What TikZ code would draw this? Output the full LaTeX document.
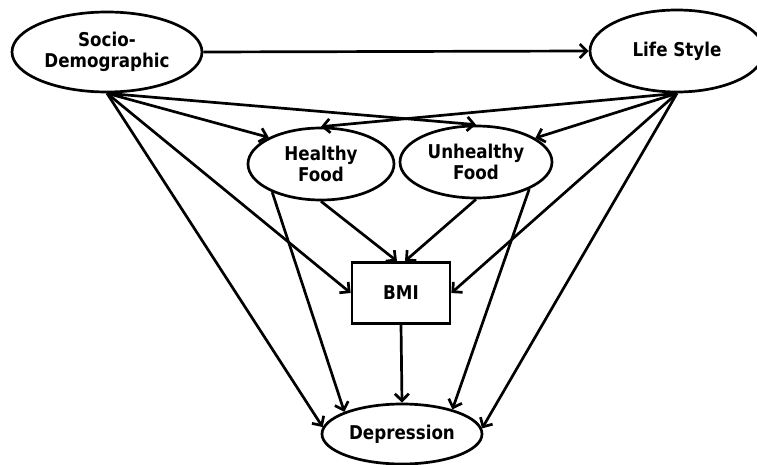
\documentclass[tikz,border=0pt]{standalone}
\usepackage{fontspec}
\setmainfont{DejaVu Sans}[FakeStretch=0.88]
\usetikzlibrary{positioning,arrows.meta,shapes.geometric}

\begin{document}
\begin{tikzpicture}[
        x=1pt, y=-1pt,
        line width=2.7pt,
        >={Straight Barb[length=7pt,width=14pt]},
        font=\bfseries\fontsize{19}{21}\selectfont,
        factor/.style={ellipse, draw, inner sep=0pt, align=center},
        measure/.style={rectangle, draw, inner sep=0pt, align=center}
    ]
        \useasboundingbox (0,0) rectangle (757,465);

        % Nodes
        \node[factor, minimum width=190pt, minimum height=80pt] (socio) at (107,52) {Socio-\\Demographic};
        \node[factor, minimum width=174pt, minimum height=82pt] (life) at (677,51) {Life Style};
        \node[factor, minimum width=146pt, minimum height=72pt] (healthy) at (321,164) {Healthy\\Food};
        \node[factor, minimum width=152pt, minimum height=72pt] (unhealthy) at (476,162) {Unhealthy\\Food};
        \node[measure, minimum width=98pt, minimum height=61pt] (bmi) at (401,293) {BMI};
        \node[factor, minimum width=160pt, minimum height=60pt] (dep) at (402,434) {Depression};

        % Arrows from Socio-Demographic
        \draw[->] (socio.east) -- (life.west);
        \draw[->] (socio.south) -- (healthy.153);
        \draw[->] (socio.south) -- (unhealthy.north);
        \draw[->] (socio.south) -- (bmi.west);
        \draw[->] (socio.south) -- (dep.175);

        % Arrows from Life Style
        \draw[->] (life.south) -- (healthy.north);
        \draw[->] (life.south) -- (unhealthy.22);
        \draw[->] (life.south) -- (bmi.east);
        \draw[->] (life.south) -- (dep.4);

        % Food to BMI and Depression
        \draw[->] (healthy.south) -- ([xshift=-4pt]bmi.north);
        \draw[->] (healthy.-150) -- (dep.159);
        \draw[->] (unhealthy.south) -- ([xshift=4pt]bmi.north);
        \draw[->] (unhealthy.-27) -- (dep.26);

        % BMI to Depression
        \draw[->] (bmi.south) -- (dep.north);

    \end{tikzpicture}
\end{document}
